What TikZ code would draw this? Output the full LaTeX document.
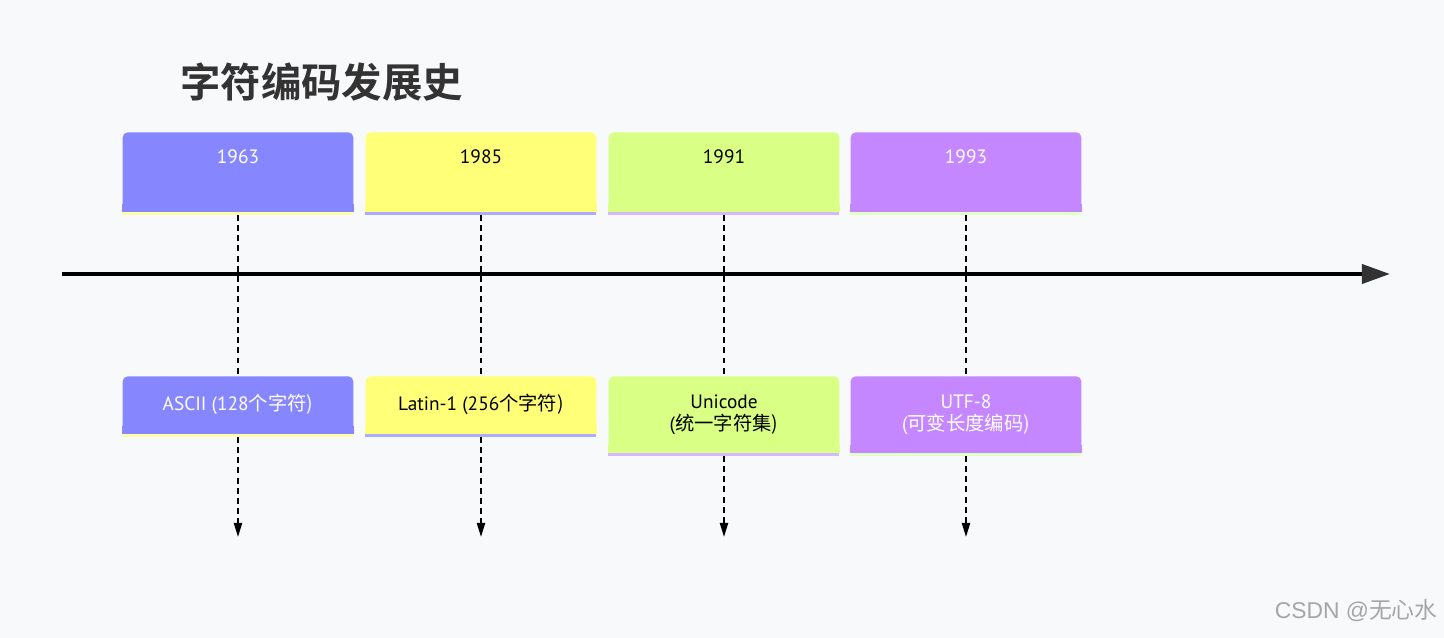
\documentclass[tikz,border=0pt]{standalone}
\usepackage{fontspec}
\setmainfont{PT Sans}
\newfontfamily\cjk[BoldFont={Noto Sans CJK SC Bold}]{Noto Sans CJK SC}
\newfontfamily\wmfont{Liberation Sans}
\usetikzlibrary{arrows.meta,positioning,calc}
\definecolor{hatter}{HTML}{F8F9FB}
\definecolor{kA}{HTML}{8686FF}\definecolor{sA}{HTML}{FFFFAA}
\definecolor{kB}{HTML}{FFFF78}\definecolor{sB}{HTML}{ABABFF}
\definecolor{kC}{HTML}{D9FF84}\definecolor{sC}{HTML}{D3B8FF}
\definecolor{kD}{HTML}{C487FF}\definecolor{sD}{HTML}{DFFFC4}
\tikzset{
  lap/.style={rounded corners=3pt,inner sep=0pt,minimum width=4.62cm,anchor=north,align=center,
    font=\fontsize{11}{12.5}\selectfont},
  ev/.style={inner sep=0pt,font=\fontsize{11}{12.5}\selectfont},
  szagg/.style={line width=1.1pt,dash pattern=on 3.4pt off 2.4pt},
  hegy/.style={-{Triangle[length=8pt,width=4.6pt]}},
  tengely/.style={line width=2.3pt,-{Triangle[length=16pt,width=10.8pt,color=black!80]}},
}
\begin{document}
\begin{tikzpicture}[x=0.02cm,y=-0.02cm]
  \fill[hatter] (0,0) rectangle (1444,638);
  \useasboundingbox (0,0) rectangle (1444,638);
  \node[anchor=west,inner sep=0pt,text=black!80,font=\cjk\bfseries\fontsize{23}{26}\selectfont]
    (cim) at (180,82) {字符编码发展史};
  % evszamok
  \foreach \n/\x/\f/\s/\t in {1963/238/kA/sA/white,1985/481/kB/sB/black,
                              1991/724/kC/sC/black,1993/966/kD/sD/white}{
    \node[lap,fill=\f,minimum height=1.58cm] (y\n) at (\x,132) {};
    \fill[\f] ($(y\n.south west)+(0,-8)$) rectangle (y\n.south east);
    \fill[\s] (y\n.south west) rectangle ++(231,3);
    \node[ev,text=\t] (t\n) at (\x,157) {\n};
  }
  % esemenyek
  \foreach \n/\x/\h/\f/\s/\t/\sz in {1963/238/1.14cm/kA/sA/white/{ASCII (128\cjk{个字符})},
      1985/481/1.14cm/kB/sB/black/{Latin-1 (256\cjk{个字符})},
      1991/724/1.52cm/kC/sC/black/{Unicode\\(\cjk{统一字符集})},
      1993/966/1.52cm/kD/sD/white/{UTF-8\\(\cjk{可变长度编码})}}{
    \node[lap,fill=\f,text=\t,minimum height=\h] (e\n) at (\x,376) {\sz};
    \fill[\f] ($(e\n.south west)+(0,-8)$) rectangle (e\n.south east);
    \fill[\s] (e\n.south west) rectangle ++(231,3);
    \coordinate (v\n) at (\x,537);
    \draw[szagg,shorten <=1.8pt] (y\n.south) -- (e\n.north);
    \draw[szagg,hegy,shorten <=1.8pt] (e\n.south) -- (v\n);
  }
  \coordinate (kezd) at (62,274);
  \coordinate (veg) at (1390,274);
  \draw[tengely] (kezd) -- (veg);
  \node[anchor=east,inner sep=0pt,text=black!35,font=\wmfont\fontsize{13}{14}\selectfont]
    (vj) at (1438,611) {CSDN @\cjk{无心水}};
\end{tikzpicture}
\end{document}
